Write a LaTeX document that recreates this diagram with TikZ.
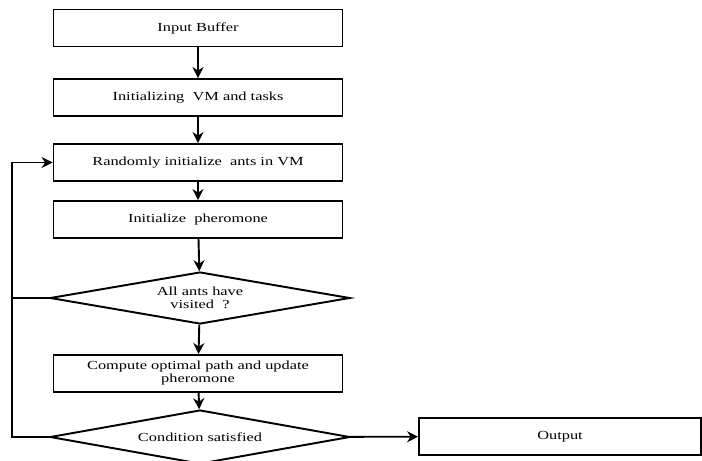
\documentclass[tikz,border=0pt]{standalone}
\usepackage{fontspec}
\setmainfont{Liberation Serif}[FakeStretch=1.33]
\usetikzlibrary{positioning}
\usetikzlibrary{shapes.geometric}
\usetikzlibrary{arrows.meta}

\begin{document}
\begin{tikzpicture}[x=0.02cm, y=-0.02cm,
    box/.style={draw, line width=1.1pt, minimum width=5.78cm, minimum height=0.74cm,
        inner sep=0pt, align=center, font=\fontsize{7}{7.4}\selectfont},
    decision/.style={draw, diamond, line width=1.1pt, aspect=5.7, minimum width=6cm,
        minimum height=1.06cm, inner sep=0pt, align=center, font=\fontsize{7}{7.4}\selectfont},
    arrow/.style={line width=1.1pt, -{Stealth[length=2.2mm, width=2.2mm]}}]
    \useasboundingbox (0,0) rectangle (702,460);

    % Main column
    \node[box] (buf) at (198,28) {Input Buffer};
    \node[box] (init) at (198,97.5) {Initializing\ \ VM and tasks};
    \node[box] (rand) at (198,162.5) {Randomly initialize\ \ ants in VM};
    \node[box] (pher) at (198,219.5) {Initialize\ \ pheromone};
    \node[decision, minimum height=1.04cm] (visit) at (200,298) {All ants have\\visited\ \ ?};
    \node[box] (comp) at (198,373.5) {Compute optimal path and update\\pheromone};
    \node[decision, minimum height=1.08cm] (cond) at (200,437) {Condition satisfied};
    \node[box, minimum width=5.64cm] (out) at (560,436.5) {Output};

    % Flow
    \draw[arrow] (buf) -- (init);
    \draw[arrow] (init) -- (rand);
    \draw[arrow] (rand) -- (pher);
    \draw[arrow] (pher) -- (visit);
    \draw[arrow] (visit) -- (comp);
    \draw[arrow] (comp) -- (cond);
    \draw[arrow] (cond) -- (out);

    % Loop back
    \coordinate (loop) at (12,298);
    \draw[arrow] (visit.west) -- (loop) |- (rand.west);
    \draw[line width=1.1pt] (cond.west) -| (loop);
\end{tikzpicture}
\end{document}
